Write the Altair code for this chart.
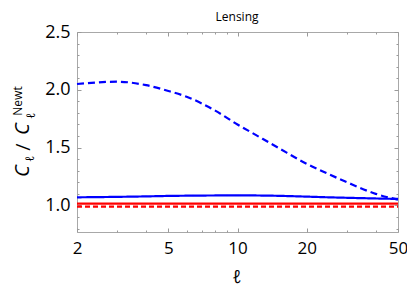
import altair as alt
import pandas as pd

# ---- data ----
ell = [2, 3, 4, 5, 6, 8, 10, 12, 15, 20, 25, 30, 40, 50]
blue_dashed = [2.05, 2.07, 2.04, 1.99, 1.94, 1.82, 1.70, 1.61, 1.50, 1.36, 1.27, 1.20, 1.10, 1.05]
blue_solid = [1.070, 1.074, 1.078, 1.082, 1.084, 1.086, 1.087, 1.086, 1.083, 1.076, 1.070, 1.066, 1.060, 1.056]
red_solid = [1.015] * len(ell)
red_dashed = [0.99] * len(ell)

series_names = ["blue_dashed", "blue_solid", "red_solid", "red_dashed"]
series_colors = ["#0000ff", "#0000ff", "#ff0000", "#ff0000"]
series_dash = [[7, 4], [1, 0], [1, 0], [5, 3]]

x_major = [2, 5, 10, 20, 50]
x_minor = [3, 4, 6, 7, 8, 9, 30, 40]
y_major = [1.0, 1.5, 2.0, 2.5]
y_minor = [0.8, 0.9, 1.1, 1.2, 1.3, 1.4, 1.6, 1.7, 1.8, 1.9, 2.1, 2.2, 2.3, 2.4]

rows = []
for name, vals in zip(series_names, [blue_dashed, blue_solid, red_solid, red_dashed]):
    for l, v in zip(ell, vals):
        rows.append({"ell": l, "value": v, "series": name})
df = pd.DataFrame(rows)

FONT = "Open Sans"
TICK = "#9a9a9a"
xscale = alt.Scale(type="log", domain=[2, 50], nice=False)
yscale = alt.Scale(domain=[0.77, 2.5], nice=False, zero=False)


def xaxis(orient, values, size, labels=False):
    kw = dict(orient=orient, values=values, tickSize=size, offset=-size, domain=False,
              grid=False, tickColor=TICK, tickWidth=1, title=None, labels=labels)
    if labels:
        kw.update(labelFont=FONT, labelFontSize=17, labelColor="black", labelPadding=8,
                  labelExpr="datum.value", labelFlush=False, labelOverlap=False)
    return alt.Axis(**kw)


def yaxis(orient, values, size, labels=False):
    kw = dict(orient=orient, values=values, tickSize=size, offset=-size, domain=False,
              grid=False, tickColor=TICK, tickWidth=1, title=None, labels=labels)
    if labels:
        kw.update(labelFont=FONT, labelFontSize=18, labelColor="black", labelPadding=7,
                  format=".1f", labelFlush=False, labelOverlap=False)
    return alt.Axis(**kw)


lines = alt.Chart(df).mark_line(interpolate="monotone", strokeWidth=2.2).encode(
    x=alt.X("ell:Q", scale=xscale, axis=xaxis("bottom", x_major, 4, labels=True)),
    y=alt.Y("value:Q", scale=yscale, axis=yaxis("left", y_major, 4, labels=True)),
    color=alt.Color("series:N", scale=alt.Scale(domain=series_names, range=series_colors), legend=None),
    strokeDash=alt.StrokeDash("series:N", scale=alt.Scale(domain=series_names, range=series_dash), legend=None),
    detail="series:N",
)


def ghost(xax, yax):
    return alt.Chart(df).mark_line(opacity=0).encode(
        x=alt.X("ell:Q", scale=xscale, axis=xax),
        y=alt.Y("value:Q", scale=yscale, axis=yax),
        detail="series:N",
    )


g1 = ghost(xaxis("bottom", x_minor, 2), yaxis("left", y_minor, 2))
g2 = ghost(xaxis("top", x_major, 4), yaxis("right", y_major, 4))
g3 = ghost(xaxis("top", x_minor, 2), yaxis("right", y_minor, 2))

# y-axis title pieces: C_l / C_l^Newt (rotated)
ytitle_text = ["C", "ℓ", "/", "C", "ℓ", "Newt"]
ytitle_x = [-54, -47, -53, -54, -46, -59]
ytitle_y = [139, 127, 115, 97, 84, 69]
ytitle_size = [20, 12, 20, 20, 12, 12]
ytitle_style = ["italic", "italic", "normal", "italic", "italic", "normal"]

title_layers = []
for t, px, py, s, st in zip(ytitle_text, ytitle_x, ytitle_y, ytitle_size, ytitle_style):
    title_layers.append(
        alt.Chart(pd.DataFrame({"t": [t]})).mark_text(
            angle=270, align="center", baseline="middle", font=FONT, fontSize=s,
            fontStyle=st, color="black"
        ).encode(text="t:N", x=alt.value(px), y=alt.value(py))
    )

xlabel = alt.Chart(pd.DataFrame({"t": ["ℓ"]})).mark_text(
    align="center", baseline="alphabetic", font=FONT, fontSize=18, fontStyle="italic", color="black"
).encode(text="t:N", x=alt.value(160), y=alt.value(251))

toptitle = alt.Chart(pd.DataFrame({"t": ["Lensing"]})).mark_text(
    align="center", baseline="middle", font=FONT, fontSize=12, color="black"
).encode(text="t:N", x=alt.value(160), y=alt.value(-15))

chart = alt.layer(lines, g1, g2, g3, xlabel, toptitle, *title_layers).resolve_axis(
    x="independent", y="independent"
).properties(
    width=321, height=200,
    autosize=alt.AutoSizeParams(type="none"),
    padding={"left": 69, "top": 24, "right": 9, "bottom": 57},
).configure_view(stroke="#a8a8a8", strokeWidth=1)

chart.save("out.html", embed_options={"renderer": "svg", "actions": False})
